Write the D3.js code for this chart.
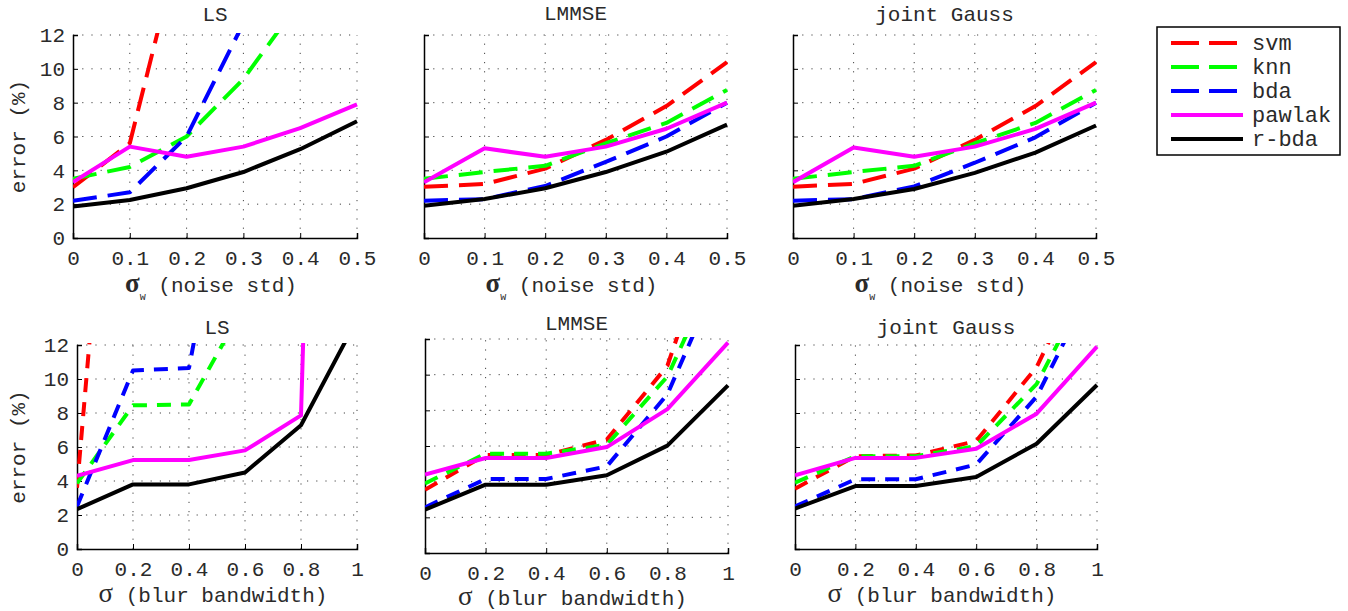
<!DOCTYPE html>
<html>
<head>
<meta charset="utf-8">
<script src="https://cdn.jsdelivr.net/npm/d3@7"></script>
</head>
<body style="margin:0; background:#fff">
<script>
var width = 1348,
  height = 611;
var MONO = "'Liberation Mono', 'Courier New', monospace";
var SERIF = "'Liberation Serif', 'DejaVu Serif', serif";

// series names, in draw order
var series = ["svm", "knn", "bda", "pawlak", "r-bda"];

// x values
var noiseStd = [0, 0.1, 0.2, 0.3, 0.4, 0.5];
var blurBw = [0, 0.2, 0.4, 0.6, 0.8, 1];
var errorTicks = [0, 2, 4, 6, 8, 10, 12];

// error (%) per panel, one row per series (svm, knn, bda, pawlak, r-bda)
var lsNoise = [
  [3.0, 5.6, 19, 30, 40, 50],
  [3.5, 4.2, 6.0, 9.4, 14, 18],
  [2.2, 2.7, 6.0, 12.7, 20, 28],
  [3.3, 5.4, 4.8, 5.4, 6.5, 7.9],
  [1.86, 2.25, 2.94, 3.9, 5.25, 6.9]
];
var lmmseNoise = [
  [3.03, 3.19, 4.1, 5.8, 7.8, 10.4],
  [3.5, 3.9, 4.27, 5.6, 6.8, 8.75],
  [2.2, 2.3, 3.07, 4.5, 6.0, 8.0],
  [3.3, 5.3, 4.8, 5.4, 6.46, 8.0],
  [1.9, 2.3, 2.94, 3.9, 5.1, 6.7]
];
var gaussNoise = [
  [3.03, 3.2, 4.1, 5.8, 7.8, 10.4],
  [3.5, 3.9, 4.27, 5.6, 6.8, 8.75],
  [2.2, 2.3, 3.05, 4.45, 5.95, 8.0],
  [3.3, 5.35, 4.8, 5.4, 6.45, 8.0],
  [1.9, 2.3, 2.9, 3.85, 5.05, 6.65]
];
var lsBlur = [
  [3.6, 42, 60, 80, 100, 120],
  [3.86, 8.45, 8.5, 14.4, 20, 26],
  [2.5, 10.5, 10.65, 28, 40, 50],
  [4.3, 5.23, 5.23, 5.8, 7.86, 120],
  [2.34, 3.8, 3.8, 4.5, 7.28, 13.5]
];
var lmmseBlur = [
  [3.55, 5.5, 5.5, 6.36, 10.5, 20.5],
  [3.9, 5.57, 5.57, 6.07, 9.9, 17.3],
  [2.56, 4.15, 4.15, 4.86, 8.9, 16.7],
  [4.4, 5.33, 5.33, 5.94, 8.07, 11.8],
  [2.43, 3.83, 3.83, 4.36, 6.02, 9.4]
];
var gaussBlur = [
  [3.55, 5.46, 5.5, 6.35, 10.7, 18],
  [3.9, 5.46, 5.46, 6.05, 9.7, 16.5],
  [2.5, 4.1, 4.1, 4.97, 8.96, 16],
  [4.34, 5.36, 5.36, 5.9, 7.96, 11.9],
  [2.38, 3.7, 3.7, 4.24, 6.19, 9.65]
];

var couleur = d3.scaleOrdinal()
  .domain(series)
  .range(["#ff0000", "#00ff00", "#0000ff", "#ff00ff", "#000000"]);
var dashed = { svm: true, knn: true, bda: true, pawlak: false, "r-bda": false };

var panels = [
  { title: "LS", xs: noiseStd, vals: lsNoise, box: [73, 357, 35, 238], noise: true, ylab: true, ty: 21, ly: 292, dash: "24,11" },
  { title: "LMMSE", xs: noiseStd, vals: lmmseNoise, box: [424, 727, 35, 238], noise: true, ylab: false, ty: 20, ly: 292, dash: "24,11" },
  { title: "joint Gauss", xs: noiseStd, vals: gaussNoise, box: [793, 1096, 35, 238], noise: true, ylab: false, ty: 21, ly: 292, dash: "24,11" },
  { title: "LS", xs: blurBw, vals: lsBlur, box: [77, 357, 345, 549], noise: false, ylab: true, ty: 334, ly: 602, dash: "14,10" },
  { title: "LMMSE", xs: blurBw, vals: lmmseBlur, box: [425, 728, 339, 553], noise: false, ylab: false, ty: 330, ly: 605, dash: "14,10" },
  { title: "joint Gauss", xs: blurBw, vals: gaussBlur, box: [795, 1097, 345, 549], noise: false, ylab: false, ty: 334, ly: 602, dash: "14,10" }
];

var svg = d3.select("body")
  .append("svg")
  .attr("width", width)
  .attr("height", height)
  .style("font-family", MONO);

var fmt = d3.format("~g");

panels.forEach(function (p, i) {
  var l = p.box[0], r = p.box[1], t = p.box[2], b = p.box[3];
  var x = d3.scaleLinear().domain([0, d3.max(p.xs)]).range([l, r]);
  var y = d3.scaleLinear().domain([0, 12]).range([b, t]);
  var g = svg.append("g");

  // dotted grid
  g.selectAll(".gx").data(p.xs.slice(1)).enter().append("line")
    .attr("x1", function (d) { return x(d); }).attr("x2", function (d) { return x(d); })
    .attr("y1", b).attr("y2", t)
    .attr("stroke", "#444").attr("stroke-width", 1).attr("stroke-dasharray", "1.2,8");
  g.selectAll(".gy").data(errorTicks.slice(1)).enter().append("line")
    .attr("y1", function (d) { return y(d); }).attr("y2", function (d) { return y(d); })
    .attr("x1", l).attr("x2", r)
    .attr("stroke", "#444").attr("stroke-width", 1).attr("stroke-dasharray", "1.2,8");

  // axes
  var ax = g.append("g").attr("transform", "translate(0," + b + ")")
    .call(d3.axisBottom(x).tickValues(p.xs).tickSize(-5).tickPadding(12).tickFormat(fmt));
  var ay = g.append("g").attr("transform", "translate(" + l + ",0)")
    .call(d3.axisLeft(y).tickValues(errorTicks).tickSize(-5).tickPadding(8)
      .tickFormat(p.ylab ? fmt : ""));
  [ax, ay].forEach(function (a) {
    a.attr("font-family", null).attr("font-size", null);
    a.select(".domain").attr("stroke", "#000").attr("stroke-width", 1.5);
    a.selectAll(".tick line").attr("stroke", "#000");
    a.selectAll("text").style("font-family", MONO).style("font-size", "21px").attr("fill", "#2a2a2a");
  });

  // lines
  var clipId = "clip" + i;
  svg.append("clipPath").attr("id", clipId)
    .append("rect").attr("x", l).attr("y", t - 2).attr("width", r - l + 3).attr("height", b - t + 2);
  var line = d3.line()
    .x(function (d, j) { return x(p.xs[j]); })
    .y(function (d) { return y(d); });
  g.append("g").attr("clip-path", "url(#" + clipId + ")")
    .selectAll("path").data(p.vals).enter().append("path")
    .attr("d", line)
    .attr("fill", "none")
    .attr("stroke", function (d, k) { return couleur(series[k]); })
    .attr("stroke-width", 4)
    .attr("stroke-linejoin", "round")
    .attr("stroke-dasharray", function (d, k) { return dashed[series[k]] ? p.dash : null; });

  // title
  g.append("text")
    .attr("x", (l + r) / 2).attr("y", p.ty)
    .attr("text-anchor", "middle")
    .style("font-family", MONO)
    .style("font-size", "21px")
    .attr("fill", "#2a2a2a")
    .text(p.title);

  // x label
  var xl = g.append("text")
    .attr("x", (l + r) / 2 - 4).attr("y", p.ly)
    .attr("text-anchor", "middle")
    .attr("fill", "#2a2a2a")
    .style("font-family", MONO)
    .style("font-size", "21px");
  if (p.noise) {
    xl.append("tspan").style("font-family", SERIF).style("font-weight", "bold").style("font-size", "27px").text("σ");
    xl.append("tspan").attr("dy", 8).style("font-size", "10px").text("w");
    xl.append("tspan").attr("dy", -8).text("  (noise std)");
  } else {
    xl.append("tspan").style("font-family", SERIF).style("font-size", "27px").text("σ");
    xl.append("tspan").text(" (blur bandwidth)");
  }

  // y label
  if (p.ylab) {
    g.append("text")
      .attr("transform", "translate(25," + (t + b) / 2 + ") rotate(-90)")
      .attr("text-anchor", "middle")
      .attr("fill", "#2a2a2a")
      .style("font-family", MONO)
      .style("font-size", "21px")
      .text("error (%)");
  }
});

// legend
var leg = svg.append("g");
leg.append("rect")
  .attr("x", 1157).attr("y", 27).attr("width", 183).attr("height", 128)
  .attr("fill", "#fff").attr("stroke", "#000").attr("stroke-width", 1.5);
var item = leg.selectAll(".item").data(series).enter().append("g")
  .attr("transform", function (d, i) { return "translate(0," + (43 + i * 24) + ")"; });
item.append("line")
  .attr("x1", 1171).attr("x2", 1243)
  .attr("stroke", function (d) { return couleur(d); })
  .attr("stroke-width", 4)
  .attr("stroke-dasharray", function (d) { return dashed[d] ? "28,10" : null; });
item.append("text")
  .attr("x", 1252).attr("y", 7)
  .attr("fill", "#2a2a2a")
  .style("font-family", MONO)
  .style("font-size", "22px")
  .text(function (d) { return d; });
</script>
</body>
</html>
